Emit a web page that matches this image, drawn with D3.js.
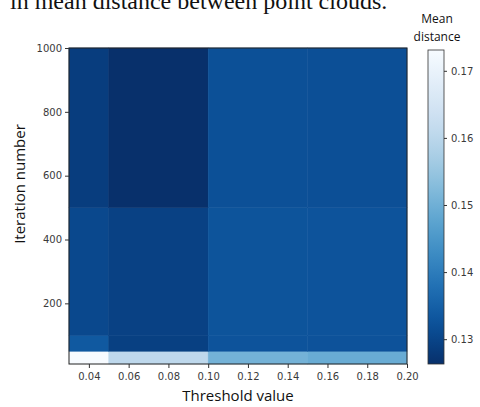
<!DOCTYPE html>
<html>
<head>
<meta charset="utf-8">
<script src="https://cdn.jsdelivr.net/npm/d3@7"></script>
<style>
	body { margin: 0; background: #fff; }
	svg { display: block; }
</style>
</head>
<body>
<div id="chart"></div>
<script>
	// cell edges of the grid
	var thresholdEdges = [0.03, 0.05, 0.10, 0.15, 0.20],
		iterationEdges = [10, 50, 100, 500, 1000];

	// mean distance per cell, rows from bottom (10-50) to top (500-1000)
	var meanDistance = [
		[0.1731, 0.1605, 0.1506, 0.1492],
		[0.1336, 0.1291, 0.1326, 0.1324],
		[0.1305, 0.1293, 0.1327, 0.1326],
		[0.1286, 0.1263, 0.1320, 0.1319]
	];

	var xTicks = [0.04, 0.06, 0.08, 0.10, 0.12, 0.14, 0.16, 0.18, 0.20],
		yTicks = [200, 400, 600, 800, 1000],
		colorbarTicks = [0.13, 0.14, 0.15, 0.16, 0.17];

	var width = 480, height = 407,
		plotLeft = 69, plotRight = 407, plotTop = 48, plotBottom = 364,
		barLeft = 428, barWidth = 16;

	var svg = d3.select("#chart").append("svg")
		.attr("width", width)
		.attr("height", height);

	// caption line cut off at the top of the picture
	svg.append("text")
		.attr("x", 10)
		.attr("y", 9)
		.style("font-family", "'Liberation Serif', 'Times New Roman', serif")
		.style("font-size", "24px")
		.style("fill", "#111")
		.text("in mean distance between point clouds.");

	var x = d3.scaleLinear().domain([0.03, 0.20]).range([plotLeft, plotRight]);
	var y = d3.scaleLinear().domain([10, 1000]).range([plotBottom, plotTop]);

	var allValues = d3.merge(meanDistance);
	var extent = d3.extent(allValues);
	var color = d3.scaleSequential(function (t) {
		return d3.interpolateBlues(1 - t);
	}).domain(extent);

	var cells = [];
	meanDistance.forEach(function (row, i) {
		row.forEach(function (v, j) {
			cells.push({ x0: thresholdEdges[j], x1: thresholdEdges[j + 1], y0: iterationEdges[i], y1: iterationEdges[i + 1], value: v });
		});
	});

	svg.append("g").selectAll("rect")
		.data(cells)
		.enter()
		.append("rect")
		.attr("x", function (d) { return x(d.x0); })
		.attr("y", function (d) { return y(d.y1); })
		.attr("width", function (d) { return x(d.x1) - x(d.x0); })
		.attr("height", function (d) { return y(d.y0) - y(d.y1); })
		.attr("fill", function (d) { return color(d.value); })
		.attr("stroke", function (d) { return color(d.value); })
		.attr("stroke-width", 0.5);

	// frame
	svg.append("rect")
		.attr("x", plotLeft)
		.attr("y", plotTop)
		.attr("width", plotRight - plotLeft)
		.attr("height", plotBottom - plotTop)
		.attr("fill", "none")
		.attr("stroke", "#222")
		.attr("stroke-width", 1);

	function styleAxis(g) {
		g.select(".domain").remove();
		g.selectAll(".tick line").attr("stroke", "#333");
		g.selectAll(".tick text")
			.style("font-family", "'DejaVu Sans', sans-serif")
			.style("font-size", "10px")
			.style("fill", "#3a3a3a");
	}

	svg.append("g")
		.attr("transform", "translate(0," + plotBottom + ")")
		.call(d3.axisBottom(x).tickValues(xTicks).tickFormat(d3.format(".2f")).tickSize(4).tickPadding(5))
		.call(styleAxis);

	svg.append("g")
		.attr("transform", "translate(" + plotLeft + ",0)")
		.call(d3.axisLeft(y).tickValues(yTicks).tickFormat(d3.format("d")).tickSize(4).tickPadding(3))
		.call(styleAxis);

	svg.append("text")
		.attr("x", (plotLeft + plotRight) / 2)
		.attr("y", 401)
		.attr("text-anchor", "middle")
		.style("font-family", "'Open Sans', sans-serif")
		.style("font-size", "15px")
		.style("fill", "#111")
		.text("Threshold value");

	svg.append("text")
		.attr("transform", "translate(25," + 184 + ") rotate(-90)")
		.attr("text-anchor", "middle")
		.style("font-family", "'Open Sans', sans-serif")
		.style("font-size", "15px")
		.style("fill", "#111")
		.text("Iteration number");

	// colorbar
	var cb = d3.scaleLinear().domain(extent).range([plotBottom, 50]);
	var defs = svg.append("defs");
	var grad = defs.append("linearGradient")
		.attr("id", "cbGrad")
		.attr("x1", 0).attr("y1", 1).attr("x2", 0).attr("y2", 0);
	d3.range(0, 1.0001, 0.05).forEach(function (t) {
		grad.append("stop")
			.attr("offset", t)
			.attr("stop-color", color(extent[0] + t * (extent[1] - extent[0])));
	});

	svg.append("rect")
		.attr("x", barLeft)
		.attr("y", cb.range()[1])
		.attr("width", barWidth)
		.attr("height", cb.range()[0] - cb.range()[1])
		.attr("fill", "url(#cbGrad)")
		.attr("stroke", "#333")
		.attr("stroke-width", 0.8);

	svg.append("g")
		.attr("transform", "translate(" + (barLeft + barWidth) + ",0)")
		.call(d3.axisRight(cb).tickValues(colorbarTicks).tickFormat(d3.format(".2f")).tickSize(3).tickPadding(4))
		.call(styleAxis);

	svg.selectAll("cbTitle")
		.data(["Mean", "distance"])
		.enter()
		.append("text")
		.attr("x", 437)
		.attr("y", function (d, i) { return 23 + i * 18; })
		.attr("text-anchor", "middle")
		.style("font-family", "'Open Sans', sans-serif")
		.style("font-size", "12px")
		.style("fill", "#111")
		.text(function (d) { return d; });
</script>
</body>
</html>
